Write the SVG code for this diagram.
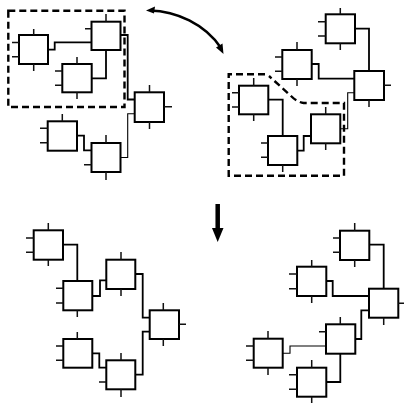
<svg xmlns="http://www.w3.org/2000/svg" width="404" height="403" viewBox="0 0 404 403">
<style>
.b{fill:#fff;stroke:#000;stroke-width:2}
.s{fill:none;stroke:#111;stroke-width:1.5}
.c{fill:none;stroke:#000;stroke-width:1.8}
.t{stroke-width:1.1}
.d{fill:none;stroke:#000;stroke-width:2.4;stroke-dasharray:7 4}
</style>
<rect width="404" height="403" fill="#fff"/>
<g id="connectors">
<path class="c" d="M48 49.7H54.7V42.3H91.5"/>
<path class="c" d="M91.7 78.3H106V50"/>
<path class="c" d="M120.5 35H127.7V99.5H134.7"/>
<path class="c" d="M77 135.7H84V150.3H91.5"/>
<path class="c t" d="M120.5 157.5H127.7V113.7H134.7"/>
<path class="c" d="M355 28.7H369V71"/>
<path class="c" d="M311.7 64H318.7V78.7H354.3"/>
<path class="c" d="M268.3 99.7H282.7V136"/>
<path class="c" d="M297.3 150.7H303.7V136H311"/>
<path class="c t" d="M340.3 128.7H347.7V92.7H354.3"/>
<path class="c" d="M63 244.7H77.3V281"/>
<path class="c" d="M92.3 296H100V280.3H106.3"/>
<path class="c" d="M135.3 274H142.7V317.7H149.7"/>
<path class="c" d="M92.3 353.3H99.3V367.7H106.3"/>
<path class="c" d="M135.3 374.7H142.7V331.7H149.7"/>
<path class="c" d="M369.3 244.7H383.7V288.7"/>
<path class="c" d="M326.3 281H332.7V296H369"/>
<path class="c" d="M355.3 339H361.3V310.3H369"/>
<path class="c t" d="M282.7 353.3H290V346H326"/>
<path class="c" d="M326.3 382H340.3V353.7"/>
</g>
<g id="selections">
<rect class="d" x="8.3" y="10.7" width="116.2" height="96.3"/>
<path class="d" d="M265 74.3H228.7V175.7H344V103H303.7Q297 102 291 96L280 86L269 76"/>
</g>
<g id="n1"><rect class="b" x="19" y="35" width="29" height="29"/><path class="s" d="M12 42.5H19M12 56.7H19M33.7 29V35M33.7 64V71"/></g>
<g id="n2"><rect class="b" x="91.5" y="21.7" width="29" height="28.3"/><path class="s" d="M85 28.7H91.5M106 14V21.7"/></g>
<g id="n3"><rect class="b" x="62.3" y="64" width="29.4" height="28.3"/><path class="s" d="M55 71H62.3M55 85.3H62.3M77 57V64M77 92.3V99"/></g>
<g id="n4"><rect class="b" x="134.7" y="92.3" width="29.3" height="29.7"/><path class="s" d="M164 106.7H172M149.5 85V92.3M149.5 122V129"/></g>
<g id="n5"><rect class="b" x="47.7" y="121.3" width="29.3" height="29.4"/><path class="s" d="M40 128.3H47.7M40 142.7H47.7M62.3 114V121.3"/></g>
<g id="n6"><rect class="b" x="91.5" y="143" width="29" height="29"/><path class="s" d="M84 164.7H91.5M106 135V143M106 172V180"/></g>
<g id="n7"><rect class="b" x="325.7" y="14.3" width="29.3" height="29"/><path class="s" d="M318 21.7H325.7M318 36H325.7M340.3 8V14.3M340.3 43.3V50"/></g>
<g id="n8"><rect class="b" x="282.3" y="50" width="29.4" height="29"/><path class="s" d="M275 57H282.3M275 71.3H282.3M297 42V50M297 79V86"/></g>
<g id="n9"><rect class="b" x="354.3" y="71" width="29.7" height="29"/><path class="s" d="M384 85.3H391M369 100V107"/></g>
<g id="n10"><rect class="b" x="239" y="85.7" width="29.3" height="28.6"/><path class="s" d="M232 92.7H239M232 107H239M253.7 78V85.7M253.7 114.3V121"/></g>
<g id="n11"><rect class="b" x="268" y="136" width="29.3" height="29"/><path class="s" d="M261 143H268M261 157.3H268M282.7 165V172"/></g>
<g id="n12"><rect class="b" x="311" y="114.3" width="29.3" height="29"/><path class="s" d="M325.7 107V114.3M325.7 143.3V150"/></g>
<g id="n13"><rect class="b" x="33.7" y="230.3" width="29.3" height="29.4"/><path class="s" d="M26 238H33.7M26 252.3H33.7M48.3 223V230.3M48.3 259.7V266"/></g>
<g id="n14"><rect class="b" x="63.3" y="281" width="29" height="29.3"/><path class="s" d="M56 288.3H63.3M56 303H63.3M77.3 310.3V317"/></g>
<g id="n15"><rect class="b" x="106.3" y="259.7" width="29" height="29.3"/><path class="s" d="M121 252V259.7M121 289V296"/></g>
<g id="n16"><rect class="b" x="149.7" y="310.3" width="29.3" height="28.7"/><path class="s" d="M179 324.3H186M163.3 303V310.3M163.3 339V346"/></g>
<g id="n17"><rect class="b" x="63.3" y="339" width="29" height="28.7"/><path class="s" d="M56 346H63.3M56 360.3H63.3M77.3 332V339"/></g>
<g id="n18"><rect class="b" x="106.3" y="360.3" width="29" height="29"/><path class="s" d="M99 382H106.3M121 353V360.3M121 389.3V397"/></g>
<g id="n19"><rect class="b" x="340" y="230.7" width="29.3" height="29.3"/><path class="s" d="M333 238H340M333 252.3H340M354.7 223V230.7M354.7 260V267"/></g>
<g id="n20"><rect class="b" x="297" y="266.7" width="29.3" height="29.3"/><path class="s" d="M289 274H297M289 288.7H297M311.7 260V266.7M311.7 296V303"/></g>
<g id="n21"><rect class="b" x="369" y="288.7" width="29.3" height="29"/><path class="s" d="M398.3 303.3H404M383.7 317.7V325"/></g>
<g id="n22"><rect class="b" x="326" y="324.3" width="29.3" height="29.4"/><path class="s" d="M319 331.7H326M340.3 317V324.3"/></g>
<g id="n23"><rect class="b" x="253.7" y="338.7" width="29" height="29"/><path class="s" d="M246 346H253.7M246 360.3H253.7M268 331V338.7M268 367.7V375"/></g>
<g id="n24"><rect class="b" x="297" y="367.7" width="29.3" height="29"/><path class="s" d="M289 374.7H297M289 389.3H297M311.7 360V367.7M311.7 396.7V403"/></g>
<g id="arrows">
<path d="M150 10.5C176 11 205 24 221 48" fill="none" stroke="#000" stroke-width="2.6"/>
<path d="M146 10.5L155 6.5L154 13.5Z" fill="#000"/>
<path d="M223.5 54L216 47.5L222.5 43.5Z" fill="#000"/>
<path d="M217.7 204V229" fill="none" stroke="#000" stroke-width="4.5"/>
<path d="M212 228H223.5L217.7 242Z" fill="#000"/>
</g>
</svg>
